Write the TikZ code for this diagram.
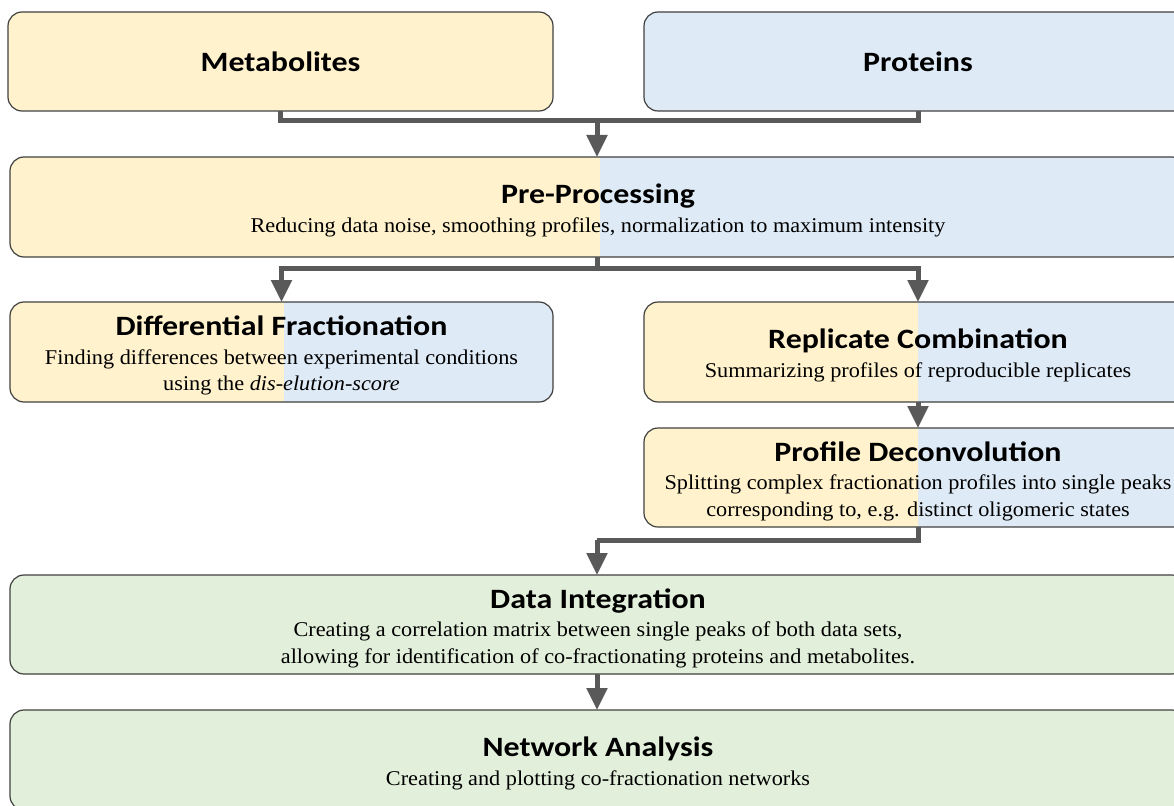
\documentclass[tikz,border=0pt]{standalone}
\usepackage{fontspec}
\setmainfont{Liberation Serif}[FakeStretch=1.06]
\newfontfamily\ttlfont{Carlito}[FakeStretch=1.14]
\usetikzlibrary{arrows.meta,backgrounds}
\definecolor{ylw}{HTML}{FFF2CC}
\definecolor{blu}{HTML}{DEEAF6}
\definecolor{grn}{HTML}{E2EFDA}
\definecolor{bord}{HTML}{404040}
\definecolor{cgray}{HTML}{595959}
\newcommand\ttl[1]{{\ttlfont\bfseries\fontsize{28}{30}\selectfont #1}}
\newcommand\ttls[1]{{\ttlfont\bfseries\fontsize{28}{30}\selectfont\rule{0pt}{27pt}#1}}
\newcommand\splitfill[2]{%
  \fill[ylw, rounded corners=14pt] (#1.south west) rectangle (#1.north east);
  \begin{scope}
    \clip (#2,-20) rectangle (1400,900);
    \fill[blu, rounded corners=14pt] (#1.south west) rectangle (#1.north east);
  \end{scope}}
\tikzset{
  box/.style={draw=bord, line width=1.2pt, rounded corners=14pt, inner sep=0pt,
    outer sep=0pt, align=center, font=\fontsize{21}{26.5}\selectfont},
  conn/.style={draw=cgray, line width=5pt},
  arr/.style={conn, -{Triangle[width=20pt,length=22pt]}}
}
\begin{document}
\begin{tikzpicture}[x=1pt,y=-1pt]
\useasboundingbox (0,0) rectangle (1174,805);
\clip (0,0) rectangle (1174,805);
\node[box, fill=ylw, minimum width=545pt, minimum height=99pt] (met) at (280.5,61.5) {\ttl{Metabolites}};
\node[box, fill=blu, minimum width=548pt, minimum height=99pt] (pro) at (918,61.5) {\ttl{Proteins}};
\node[box, minimum width=1176pt, minimum height=100pt] (pp) at (598,207)
  {\ttls{Pre-Processing}\\[2pt]Reducing data noise, smoothing profiles, normalization to maximum intensity};
\node[box, minimum width=543pt, minimum height=100pt] (df) at (281.5,352)
  {\ttls{Differential Fractionation}\\[2pt]Finding differences between experimental conditions\\using the \textit{dis-elution-score}};
\node[box, minimum width=548pt, minimum height=100pt] (rc) at (918,352)
  {\ttls{Replicate Combination}\\[2pt]Summarizing profiles of reproducible replicates};
\node[box, minimum width=548pt, minimum height=99pt] (pd) at (918,477.5)
  {\ttls{Profile Deconvolution}\\[2pt]Splitting complex fractionation profiles into single peaks\\corresponding to, e.g. distinct oligomeric states};
\node[box, fill=grn, minimum width=1176pt, minimum height=99pt] (di) at (598,624.5)
  {\ttls{Data Integration}\\[2pt]Creating a correlation matrix between single peaks of both data sets,\\allowing for identification of co-fractionating proteins and metabolites.};
\node[box, fill=grn, minimum width=1176pt, minimum height=100pt] (na) at (598,760)
  {\ttls{Network Analysis}\\[2pt]Creating and plotting co-fractionation networks};
\begin{scope}[on background layer]
  \splitfill{pp}{600}
  \splitfill{df}{284}
  \splitfill{rc}{918}
  \splitfill{pd}{918}
\end{scope}
\coordinate (j1) at (597,121);
\coordinate (j2) at (597,268);
\coordinate (j3) at (597,540);
\draw[conn] (met.south) |- (j1);
\draw[conn] (pro.south) |- (j1);
\draw[arr] (j1) -- (j1 |- pp.north);
\draw[conn] (j2 |- pp.south) -- (j2);
\draw[arr] (j2) -| (df.north);
\draw[arr] (j2) -| (rc.north);
\draw[arr] (rc.south) -- (pd.north);
\draw[conn] (pd.south) |- (j3);
\draw[arr] (j3) -- (j3 |- di.north);
\draw[arr] (j3 |- di.south) -- (j3 |- na.north);
\end{tikzpicture}
\end{document}
